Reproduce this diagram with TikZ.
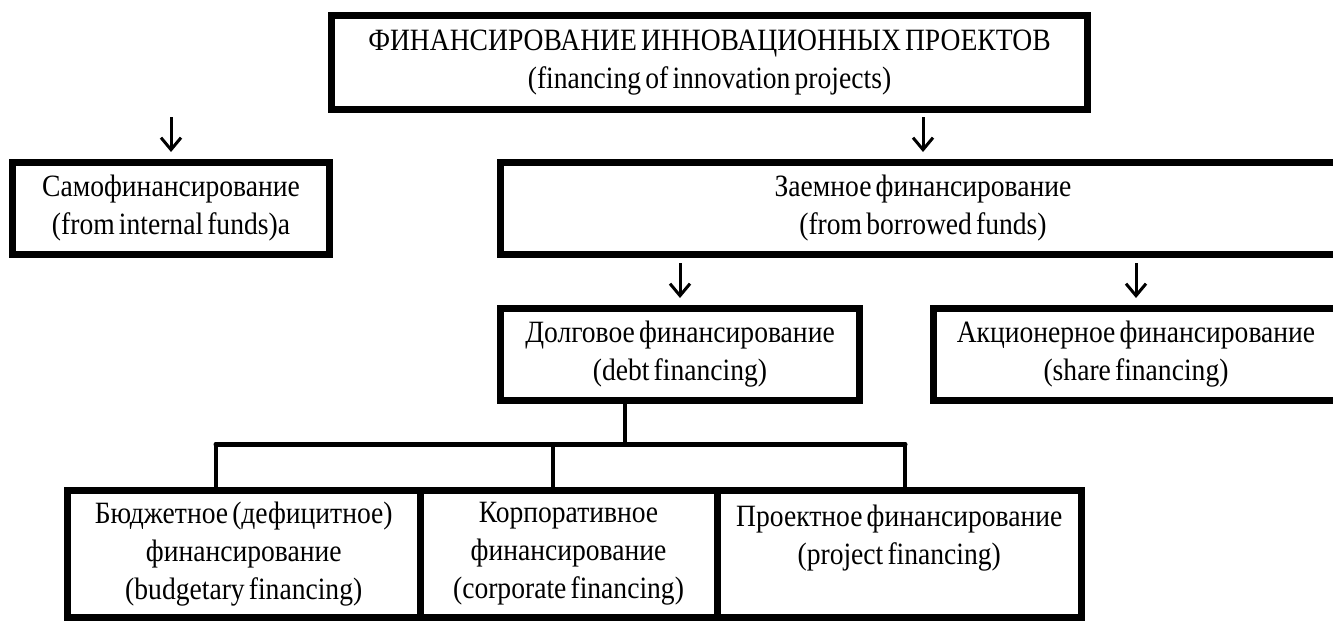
\documentclass[tikz,border=0pt]{standalone}
\usepackage{fontspec}
\setmainfont{Liberation Serif}[FakeStretch=0.89, WordSpace=0.6]
\usepackage{tikz}
\usetikzlibrary{arrows.meta, positioning}
\tikzset{
  box/.style   = {rectangle, draw=black, line width=3.5pt,
                  inner sep=0pt, outer sep=0pt, align=center,
                  font=\fontsize{15.5}{19}\selectfont},
  arrow/.style = {-{Straight Barb[length=6pt,width=10pt]}, line width=1.5pt},
  link/.style  = {line width=1.8pt},
  bus/.style   = {line width=2.5pt, line cap=round},
}

\begin{document}
\begin{tikzpicture}[x=0.5pt, y=-0.5pt]
  \useasboundingbox (0,0) rectangle (1333,621);

  % Level 1 - root
  \node[box, minimum width=378pt, minimum height=47pt] (root) at (709.5,62.5)
    {ФИНАНСИРОВАНИЕ ИННОВАЦИОННЫХ ПРОЕКТОВ\\(financing of innovation projects)};

  % Level 2 - own and borrowed funds
  \node[box, minimum width=158.5pt, minimum height=46pt] (self) at (171,208.5)
    {Самофинансирование\\(from internal funds)a};
  \node[box, minimum width=422.5pt, minimum height=46pt] (loan) at (923,208.5)
    {Заемное финансирование\\(from borrowed funds)};

  % Level 3 - debt and share
  \node[box, minimum width=179.5pt, minimum height=46pt] (debt) at (680,354.5)
    {Долговое финансирование\\(debt financing)};
  \node[box, minimum width=202.5pt, minimum height=46pt] (share) at (1136,354.5)
    {Акционерное финансирование\\(share financing)};

  % Level 4 - kinds of debt financing
  \node[box, minimum width=176.25pt, minimum height=63.75pt] (budget) at (243.75,553.75)
    {Бюджетное (дефицитное)\\финансирование\\(budgetary financing)};
  \node[box, minimum width=148.5pt, minimum height=63.75pt,
        right=0pt of budget] (corp)
    {Корпоративное\\финансирование\\(corporate financing)};
  \node[box, minimum width=182.25pt, minimum height=63.75pt,
        right=0pt of corp] (proj)
    {Проектное финансирование\\(project financing)\\\mbox{}};

  % Arrows
  \draw[arrow, shorten <=3.75pt, shorten >=5.25pt] (self.north |- root.south) -- (self.north);
  \draw[arrow, shorten <=3.75pt, shorten >=5.25pt] (loan.north |- root.south) -- (loan.north);
  \draw[arrow, shorten <=4.25pt, shorten >=5.25pt] (debt.north |- loan.south) -- (debt.north);
  \draw[arrow, shorten <=4.25pt, shorten >=5.25pt] (share.north |- loan.south) -- (share.north);

  % Bus under debt financing
  \coordinate (busL) at (216,444);
  \coordinate (busM) at (553,444);
  \coordinate (busR) at (905,444);
  \coordinate (busT) at (625,444);
  \draw[bus] (busL) -- (busR);
  \draw[link] (busT) -- (busT |- debt.south);
  \draw[link] (busL) -- (busL |- budget.north);
  \draw[link] (busM) -- (busM |- corp.north);
  \draw[link] (busR) -- (busR |- proj.north);

\end{tikzpicture}
\end{document}
